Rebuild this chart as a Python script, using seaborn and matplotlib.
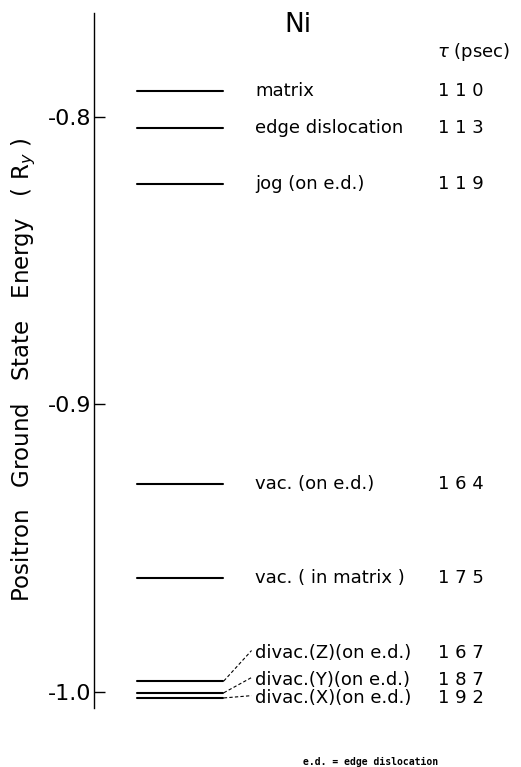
import pandas as pd
import matplotlib
matplotlib.use("Agg")
import matplotlib.pyplot as plt
import seaborn as sns

# positron states in Ni
states = ["matrix", "edge dislocation", "jog (on e.d.)", "vac. (on e.d.)",
          "vac. ( in matrix )", "divac.(Z)(on e.d.)", "divac.(Y)(on e.d.)",
          "divac.(X)(on e.d.)"]
energies = [-0.7910, -0.8038, -0.8233, -0.9278, -0.9605, -0.9962, -1.0003, -1.0021]
lifetimes = [110, 113, 119, 164, 175, 167, 187, 192]
yticks = [-0.8, -0.9, -1.0]
ytick_labels = ["-0.8", "-0.9", "-1.0"]

# -----------------------------
# layout (axes x runs 0..1 from the energy axis to the right edge)
# -----------------------------
x_line = (0.101, 0.301)
x_name = 0.377
x_tau = 0.860
# label heights for the crowded divacancy group
label_y = energies[:5] + [-0.9864, -0.9958, -1.0021]

rows = []
for s, e in zip(states, energies):
    rows.append({"state": s, "x": x_line[0], "E": e})
    rows.append({"state": s, "x": x_line[1], "E": e})
df = pd.DataFrame(rows)

sns.set_style("white")
plt.rcParams["font.family"] = ["DejaVu Sans"]
plt.rcParams["axes.unicode_minus"] = False
plt.rcParams["text.color"] = "black"
plt.rcParams["axes.labelcolor"] = "black"
plt.rcParams["ytick.color"] = "black"

fig = plt.figure(figsize=(5.21, 7.67), dpi=100)
ax = fig.add_axes([94/521, 1 - 708/767, 1 - 94/521, 695/767])

sns.lineplot(data=df, x="x", y="E", units="state", estimator=None,
             color="black", lw=1.5, ax=ax, legend=False)

ax.set_xlim(0, 1)
ax.set_ylim(-1.0056, -0.7638)
ax.set_yticks(yticks)
ax.set_yticklabels(ytick_labels, fontsize=16)
ax.tick_params(axis="y", direction="in", length=8, width=1, pad=2, left=True)
ax.set_xticks([])
ax.set_xlabel("")
for side in ["top", "right", "bottom"]:
    ax.spines[side].set_visible(False)
ax.spines["left"].set_linewidth(1)
ax.spines["left"].set_color("black")

ax.set_ylabel("Positron   Ground   State   Energy   ( R$_y$ )", fontsize=16.5)
ax.yaxis.set_label_coords(-0.13, 0.486)

# state names and lifetimes
for s, t, ly in zip(states, lifetimes, label_y):
    ax.text(x_name, ly, s, fontsize=13, ha="left", va="center")
    ax.text(x_tau, ly, " ".join(str(t)), fontsize=13, ha="center", va="center")

# dashed leaders for the divacancy levels
for e, ly in zip(energies[5:], label_y[5:]):
    ax.plot([x_line[1] + 0.003, x_name - 0.008], [e, ly + 0.0008],
            ls=(0, (3, 2)), lw=0.8, color="black")

ax.text(0.478, -0.7680, "Ni", fontsize=19, ha="center", va="center")
ax.text(0.888, -0.7774, r"$\tau$ (psec)", fontsize=13, ha="center", va="center")

fig.text(303/521, 1 - 762/767, "e.d. = edge dislocation", fontsize=7,
         family=["DejaVu Sans Mono"], weight="bold", ha="left", va="center")

fig.savefig("out.png", dpi=100)
